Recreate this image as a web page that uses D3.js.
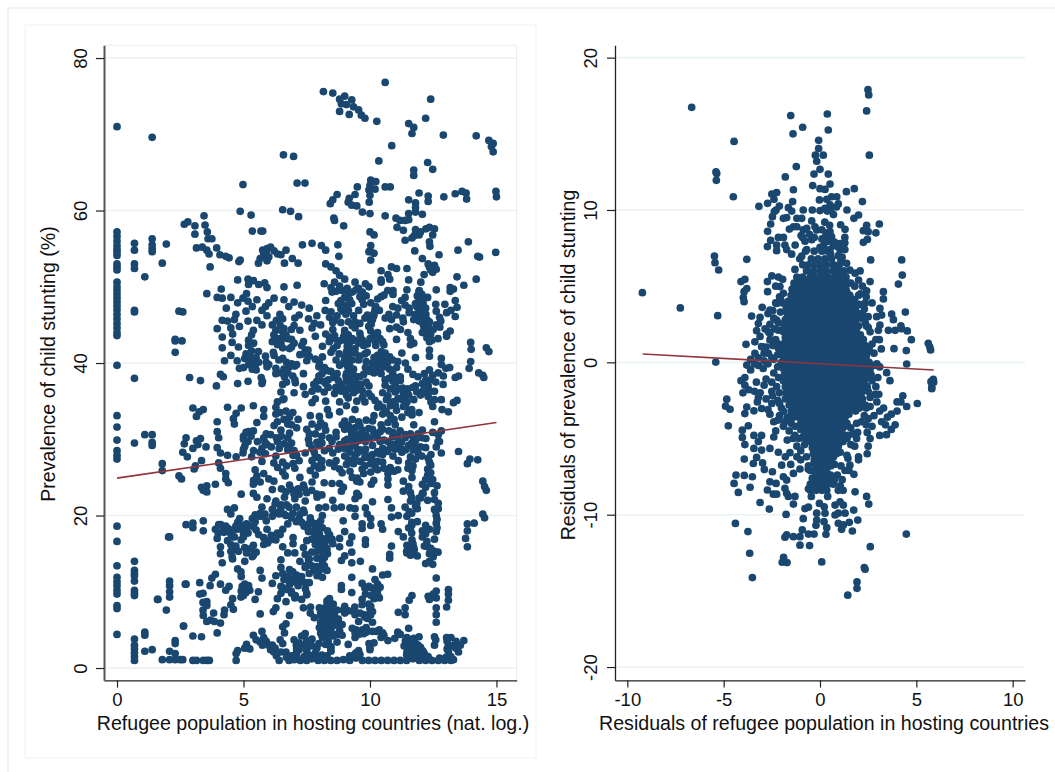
<!DOCTYPE html>
<html>
<head>
<meta charset="utf-8">
<script src="https://cdnjs.cloudflare.com/ajax/libs/d3/7.8.5/d3.min.js"></script>
<style>
body { margin: 0; background: #fff; }
text { font-family: "Liberation Sans", Arial, sans-serif; fill: #111; }
</style>
</head>
<body>
<svg id="chart" width="1055" height="772"></svg>
<script>
// left panel as [refugees (log), stunting %]
var leftColumns = [
[0,71],[0,57.2],[0,56.6],[0,56],[0,55.4],[0,54.9],[0,54.5],[0,54.1],[0,53],[0,52.6],[0,52.2],[0,50.6],[0,50],[0,49.5],[0,49],[0,48.5],[0,48],[0,47.5],[0,47],[0,46.4],[0,45.8],[0,45.2],[0,44.6],[0,44],[0,43.6],[0,39.7],
[0,33.1],[0,31.6],[0,29.9],[0,28.5],[0,27.9],[0,27.4],[0,18.6],[0,16.6],[0,13.4],[0,11.9],[0,11.3],[0,10.8],[0,10.2],[0,9.7],[0,8.2],[0,7.8],[0,4.4],
[.69,55.7],[.69,54.8],[.69,53],[.69,52.4],[.69,46.9],[.69,46.7],[.69,38],[.69,29.5],[.69,14],[.69,12.8],[.69,12.4],[.69,12.1],[.69,11.4],[.69,10.2],[.69,9.8],[.69,9.5],[.69,3.8],[.69,3],[.69,2.5],[.69,2],[.69,1.5],[.69,1],
[1.1,51.3],[1.1,30.6],[1.1,4.7],[1.1,4.3],[1.1,2.2],[1.39,69.6],[1.39,56.3],[1.39,55.5],[1.39,55],[1.39,54.6],[1.39,30.6],[1.39,29.6],[1.39,29.2],[1.39,2.4],
[1.79,53.1],[1.79,26.8],[1.79,25.9],[1.6,9],[1.79,1.1],[1.95,55.6],[1.95,7.6],[2.08,17.2],[2.08,11.4],[2.08,10.8],[2.08,10],[2.08,9.3],[2.08,2.2],[2.08,1.1],
[2.3,43.1],[2.3,42.9],[2.3,41.4],[2.3,3.6],[2.3,3.2],[2.3,1.9],[2.3,1.1],[2.45,46.8],[2.6,46.7],[2.57,42.9],[2.45,25.2],[2.55,24.8],[2.7,11],[2.63,5.5],[2.6,1.1],[2.87,38.1],[3.3,37.7],[3.93,37]
];
var leftTop = [
[8.16,75.6],[8.53,75.4],[9,75],[8.8,74.6],[9.28,74.5],[8.87,74],[9.07,73.9],[9.35,73.6],[9.55,73.2],[8.8,73],[9.18,72.6],[9.66,72.5],[9.8,72.1],[10.27,71.7],[10.6,76.8],[12.4,74.6],[12.2,72.1],[11.53,71.4],[11.73,70.9],[11.66,70.1],[12.9,69.9],[14.2,69.8],[14.7,69.2],[14.87,68.8],[14.8,68.4],[14.87,67.7],[10.86,68.5],[10.35,66.5],[6.58,67.3],[6.98,67.1],[4.98,63.4],[7.12,63.6],[7.43,63.6],[12.28,66.3],[12.48,65.4],[11.73,65.3],[11.73,64.6],
[10.03,64],[10.23,63.8],[10,63.3],[10.2,62.8],[9.96,62.7],[10.6,63.1],[10.8,63.1],[9.5,63.1],[9.41,62.1],[10,62],[9.97,61.1],[9.18,61.6],[9.14,61.1],[9.28,60.7],[9.48,60.6],[8.7,62.1],[8.53,61.4],[8.43,60.9],[11.94,62.3],[12.3,61.9],[12.3,61.2],[12.92,61.8],[13.37,62.2],[13.64,62.5],[13.8,62.3],[13.82,61.5],[14.98,62.5],[15,61.8],[11.53,61.4],[11.8,61],
[6.55,60.1],[6.86,59.9],[7.18,59.2],[4.87,59.9],[5.3,59.4],[3.44,59.3],[2.8,58.5],[2.66,58.2],[3.08,58],[3.48,58.1],[3.57,57.2],[3.08,56.9],[3.6,56.3],[3.75,56.3],[3.14,55.1],[3.37,55.2],[3.55,54.8],[3.64,54.3],[3.94,55.1],[4.07,54.2],[4.3,54],[4.43,53.8],[3.68,52.6],[4.87,53.5],[4.82,53.3],
[5.35,57.3],[5.69,57.3],[5.76,57.3],[5.76,54.8],[5.93,55],[6.07,55.2],[6.21,54.7],[5.8,54.2],[5.87,54],[5.66,53.7],[5.93,53.4],[5.59,53.1],[6.68,54.8],[6.48,54.2],[6.62,53.1],[6.93,53.7],[7.16,53.1],[7.33,55.5],[7.71,55.7],[8.08,55.4],[8.25,54.8],[8.73,55.5],[8.77,54],[5.9,54.6],[6,53.9],[6.35,54.3],
[10.6,59.3],[9.7,59.8],[10,59.6],[8.57,59],[8.6,58.7],[8.96,58],[10,57.2],[10.16,56.8],[11.03,59],[11.19,58.7],[11.39,58.7],[11.53,58.8],[11.53,59.6],[11.8,59.8],[12.07,59.5],[11.8,60.4],[11.07,57.8],[11.32,57.4],[11.39,56.1],[11.66,56.4],[11.8,57.5],[11.94,56.8],[12.21,57.6],[12.35,57.8],[12.55,57.6],[12.48,56.8],[12.35,55.9],[12.37,55.3],[13.89,55.9],[13.48,54.8],[14.26,54],[14.33,53.9],[14.97,54.5],[12.73,54.2],[11.77,54.7],[12.07,53.7],[10.03,55.4],[10.03,54.6],[10.16,54.4],[9.96,54.6],[10.03,53.5],
[10.44,52.1],[10.85,52.6],[11.05,52.4],[11.46,52.4],[12.35,52.6],[12.55,52.8],[12.48,51.9],[12.62,52.3],[12.14,51.6],[10.71,51.6],[13.44,51.3],[10.44,50.9],[10.78,51],[8.25,53],[8.46,52.6],[8.66,52.1],[8.8,51.5],[9,51],[13.17,49.9],[11.75,56.7],[12,57.2],[12.3,53],[12.4,52.2]
];
var leftUpper = [
[4.77,50.9],[5.18,51],[5.39,50.8],[5.2,50.3],[5.6,50.3],[5.84,50.5],[5.93,49.9],[6.6,50],[7.12,50.2],[8.19,50.4],[8.8,50.1],[9.41,50.6],[9.82,50.4],[10.44,50.6],[11.53,50.9],[12.01,50.6],[13.71,50.2],[14.2,51],
[4.12,49.7],[5.12,49.1],[8.46,49.9],[8.66,49.4],[9.55,49.8],[9.96,50],[10.91,49.5],[10.91,49],[11.46,49.6],[11.94,49.4],[12.62,49.6],[13.17,49.4],[13.3,49.7],[9.14,49],
[3.55,49.1],[3.96,48.6],[4.16,48.5],[4.5,48.6],[4.98,48.5],[5.53,48.3],[6.21,48.5],[9,48.6],[9.69,48.3],[10.3,48.4],[10.44,48.7],[11.39,48.6],[11.87,48.8],[12.28,48.6],[13.37,48.2],[8.25,48.2],[9.2,48.3],
[4.77,47.9],[5.18,48.1],[5.87,47.4],[6.79,47.4],[9.07,47.6],[9.28,47.8],[9.75,47.7],[10.03,47.9],[10.23,47.4],[11.39,47.6],[11.8,47.8],[12.07,47.5],[12.01,48.2],[13.44,47.3],[12.96,47.7],[11.94,47.2],
[5.73,46.9],[6.44,46.4],[8.23,46.9],[8.46,46.7],[8.94,46.8],[9.55,46.9],[10.16,46.5],[10.37,46.9],[11.05,46.3],[11.94,46.6],[12.21,46.4],[12.62,46.8],[13.03,46.6],[13.37,46.1],[13.2,46.9],[4.32,47.2],[5.93,46.2],[11.87,46],
[4.16,45.6],[4.37,45.5],[4.64,45.7],[5.18,45.5],[5.53,45.6],[6.55,45.8],[7.03,45.9],[7.57,45.8],[8.53,45.3],[9.41,45.4],[10.03,45.6],[10.85,45.7],[11.32,45.4],[11.94,45.5],[12.14,45.2],[12.62,45],[11.73,45.7],
[3.96,44.5],[4.5,44.6],[4.84,44.8],[5.39,44.3],[5.73,45],[6.14,45],[6.28,44.3],[6.55,44.1],[6.89,44.4],[7.23,44.3],[7.71,44.6],[8.05,45],[8.53,44.4],[9,44.3],[9.41,44.6],[10.03,44.2],[10.78,44.5],[11.05,44.7],[12.14,44.6],[12.41,44.3],[12.76,44.7],[13.17,44.2],[12.07,44],[7.8,45.2],[13.03,43.8],
[4.16,43.4],[4.57,43.8],[5.32,43.7],[6.34,43.2],[6.68,43.7],[7.84,43.5],[8.25,43.8],[8.59,43.2],[9.14,43.7],[9.62,43.4],[10.16,43.7],[11.05,43.1],[11.6,43.2],[12.28,43.6],[12.69,43.2],[13.03,43.5],[9.35,43],
[5.25,42.6],[6.14,42.8],[6.48,42.6],[7.37,42.8],[8.12,42.2],[8.39,42.8],[9.14,42.4],[9.55,42.6],[10.23,42.3],[11.6,42.4],[11.73,42.6],[12.35,42.8],[13.98,42.7],[9.07,42.9],[9.41,41.9],[6.9,42.1],
[4.16,42],[5.32,41.6],[5.59,41.5],[6.82,41.9],[7.44,41.7],[7.23,41.1],[8.46,41.4],[9.07,41.5],[9.41,41.3],[9.89,41.4],[11.26,41.3],[12.35,41.7],[14,41.8],[14.6,42],[14.7,41.5],[8.78,41.2],[9.05,41],[6.18,41.4],
[5.05,40.6],[5.32,40.5],[5.87,40.9],[6.21,41],[6.55,40.6],[7.5,40.3],[7.84,40.5],[8.12,40.8],[8.66,40.4],[9,40.5],[9.55,40.4],[10.16,40.7],[10.78,40.8],[11.8,40.7],[12.35,40.9],[12.82,40.6],[13.98,40.2],[10.3,41],[10.5,40.5],[9.1,39.7]
];
var leftMid3 = [
[4.84,39.3],[5.46,39.7],[5.93,39.5],[6.28,39.3],[6.82,39.5],[7.03,39.6],[7.98,39.5],[8.8,39.7],[9.14,39.3],[9.82,39.4],[10.3,39.6],[10.78,39.2],[11.05,39.4],[12.35,39.1],[12.82,39.8],[13.92,39.3],[10,39.2],[10.1,39.9],
[4.09,38.5],[4.2,38.2],[6.28,38.6],[6.62,38.2],[7.37,38.6],[7.98,38.3],[8.46,38.9],[9.07,38.6],[9.41,38.3],[10.16,38.7],[10.44,38.6],[12.48,38.4],[13.5,38.3],[14.46,38.4],[14.3,38.7],[14.5,38.1],[13.37,38.1],[5.7,38.1],[5.75,37.6],[7.9,37.6],[11.2,37.7],
[4.77,37.3],[5.18,37.6],[5.73,37.3],[6.55,37.2],[7.03,37.8],[7.37,36.9],[7.78,37.2],[8.25,37.3],[8.87,37.2],[9.07,37.8],[9.41,37.7],[9.55,36.9],[9.96,37],[10.6,37.1],[10.91,37.6],[11.8,37],[12.07,37.3],[12.3,37],[12.89,37.2],[11.7,36.8],[12.21,37.8],
[6.48,36.2],[7,36.1],[7.44,35.9],[7.71,36.3],[8.19,36.2],[8.87,36.3],[9.07,35.8],[9.35,36.1],[9.69,36.4],[10.5,36.1],[10.71,35.7],[11,36.2],[11.32,36],[11.53,35.8],[12.55,36.3],[6.55,35.2],[6.34,34.9],
[6.6,35.3],[7.71,34.8],[7.84,35.3],[8.25,35],[8.8,34.9],[9.14,35.4],[9.48,35],[9.8,34.9],[10.65,35.2],[10.91,34.9],[11.19,35.3],[11.46,34.9],[11.73,35.2],[12.41,34.9],[12.82,35.2],[13.44,35.1],[13.3,34.8],
[3,34.1],[3.41,33.9],[4.37,34.2],[4.91,34.1],[5.39,34.4],[5.8,33.9],[6.28,34.2],[6.68,33.7],[8.32,33.9],[8.8,33.6],[9.07,34.4],[9.41,33.9],[10.3,34.2],[11.05,33.8],[11.32,34.3],[12.48,34.3],[12.85,33.9],[13.1,33.6],[3.25,33.6],
[3.14,33],[4.71,33.4],[5.8,33],[6.28,33.3],[6.82,32.9],[7.16,32.6],[7.64,33.1],[8,33],[8.39,33.2],[10.16,33.1],[10.5,33.3],[11.26,32.9],[11.66,33.2],[11.94,33.5],[4.6,32.7],[6.95,33.5],
[3.96,32.3],[4.64,32],[5.53,32.2],[6.21,31.8],[6.34,32.3],[6.75,32],[7.71,32],[8.05,32.2],[9.14,31.8],[9.55,32.3],[10.1,32.4],[10.44,31.9],[10.71,32.2],[11.73,31.9],[12.55,32.3],
[3.96,31],[5.39,31.1],[6.07,30.6],[6.48,31.2],[6.82,30.8],[7.5,31.3],[7.84,30.7],[8.25,31.2],[8.66,30.9],[9,31.3],[9.28,30.7],[9.69,31.2],[10.16,30.8],[10.5,31.3],[10.91,30.9],[11.19,31.1],[11.6,30.7],[12.07,31.2],[12.48,30.9],[12.82,31.1],[5.1,30.9],[9.4,31.5],[9.95,31.4]
];
var leftMid2 = [
[2.73,30.2],[3.14,29.8],[4.02,30.2],[5.18,29.7],[5.8,30.2],[6.34,29.7],[6.75,30.2],[7.57,30],[8.05,29.7],[8.66,30.3],[9,29.8],[9.35,30.2],[9.82,29.7],[10.3,30.2],[10.71,29.7],[11.39,30.2],[11.8,29.8],[12.21,30.1],[12.69,29.7],[3.3,30.1],[5.3,30.4],
[2.66,29.4],[3,28.8],[3.2,29.3],[3.52,29],[3.96,28.9],[5.05,29.1],[5.73,28.8],[5.93,29.3],[6.41,28.8],[6.82,29.2],[7.71,28.8],[7.98,29.2],[8.39,28.8],[9.41,29.1],[9.82,28.7],[10.1,29.2],[10.5,28.8],[11.53,29.2],[11.8,28.9],[12.62,29],[9.6,28.6],[10.3,28.4],
[2.6,28.3],[2.78,27.7],[4.09,28.2],[4.37,27.9],[4.71,27.7],[4.98,28.2],[5.32,27.7],[5.87,28.1],[6.28,27.8],[6.96,27.9],[7.44,28.2],[7.84,27.7],[8.53,28.2],[9,27.8],[9.48,28.2],[9.89,27.7],[10.37,28.1],[10.91,27.8],[11.26,28.3],[11.6,27.7],[12.41,28],[12.82,28.2],[13.5,28.4],[9.2,28.3],[10.6,28.5],
[3.34,27.2],[4.02,26.9],[5.73,27.1],[6.55,27],[6.96,26.8],[7.71,27.2],[8.05,26.7],[8.66,27.2],[9.07,26.7],[9.62,27.1],[10.03,26.8],[10.5,27],[11.12,27.2],[11.53,26.9],[12.35,27],[13.85,26.8],[14.26,27.3],[13.95,27.4],[3.1,26.5],
[3.05,26.1],[4.09,26.2],[5.46,26],[6.55,25.7],[7.03,26.2],[7.64,25.9],[7.98,26.2],[8.8,26.1],[9.21,25.8],[9.69,26.1],[10.03,25.7],[10.3,26],[10.71,25.5],[11.66,25.9],[12.28,26.1],[6.65,25.2],
[4.3,25.5],[4.3,24.8],[5.53,25.2],[5.8,25.5],[7.23,25],[7.84,25.3],[10.71,24.8],[11.66,25],[12.28,25.3],[12.48,24.7],[4.4,24.3],[5.4,24.6],[10.15,24.6],[10.05,24.1],
[3.34,23.7],[3.55,23.9],[3.89,24.1],[5.39,24.1],[5.66,24.4],[6.82,24],[7.37,24],[7.71,24.4],[8.19,24.3],[8.8,24.2],[8.5,24.2],[9.48,24.5],[9.6,24.4],[10.71,24],[11.32,24.5],[11.53,23.8],[12.07,24.1],[12.41,24.2],[14.46,24.5],[14.53,23.8],[12.65,23.9],
[3.41,23.3],[3.55,23.1],[4.91,22.8],[5.39,22.9],[6.14,23.4],[6.68,23.1],[7.16,23.5],[7.5,23],[8.87,23.2],[8.95,23.7],[9.48,22.9],[11.32,23.2],[11.6,23],[12.07,22.9],[12.55,23],[14.6,23.3],[11.65,22.4],
[5.53,22.4],[5.93,22.2],[6.28,21.9],[6.62,22.4],[7.03,22.2],[7.44,21.9],[7.91,22.4],[8.53,22],[9.41,22.2],[9.55,22.6],[10.1,21.8],[10.71,22.1],[11.6,21.9],[11.94,22.3],[12.28,22],[12.55,22.1],[12.7,21.6],
[4.37,20.8],[4.64,21],[5.73,21.1],[6.14,20.8],[6.48,21],[7.09,21.1],[7.37,20.7],[7.98,21],[8.25,21.1],[8.59,21],[8.87,21.1],[9.21,21],[9.41,20.9],[9.82,21],[10.85,21],[11.39,21.1],[11.87,20.9],[12.55,20.8],[12.7,20.9],[6.25,21.5],[11.55,20.5],[6.3,20.4]
];
var leftMid1 = [
[4.5,20.2],[5.46,20.1],[5.66,20.3],[6.14,19.9],[6.41,20.2],[6.68,20],[7.23,20.2],[7.64,19.7],[8.12,20],[9.41,19.9],[9.89,20.2],[10.85,19.8],[11.12,20],[11.46,19.9],[12.62,20],[14.46,20.2],[14.53,19.7],[7.4,20.4],[10.03,19.6],[8.05,19.3],
[2.73,18.8],[3,19],[3.41,19.3],[4.02,18.8],[4.77,19.1],[5.12,18.9],[5.46,19.2],[6.75,18.9],[7.09,19.2],[7.57,18.9],[7.98,19],[8.12,18.4],[8.94,19.3],[9.69,18.9],[10.03,18.7],[10.44,18.9],[11.66,18.8],[11.87,19.2],[12.62,19],[13.85,18.9],[14.12,19],[4.3,18.6],[4.98,18.4],
[3,18.4],[3.41,18],[3.89,18.2],[4.23,17.8],[4.77,18.2],[5.18,17.7],[5.93,18.2],[6.34,17.7],[6.55,18.2],[7.57,17.9],[7.84,18.3],[8.32,18],[9,17.9],[9.69,18.3],[10.5,18.2],[11.12,17.9],[11.53,18.4],[12.07,18],[12.35,18.2],[12.62,17.9],[13.85,18],[4,17.7],[5,17.6],
[2.04,17.2],[3.96,17],[4.37,16.7],[4.64,17.2],[4.91,16.8],[5.8,17.1],[6.28,16.8],[6.96,17.1],[7.5,16.7],[7.91,17.2],[8.25,16.7],[8.8,17],[9.28,17.2],[9.82,16.8],[11.32,17.2],[11.66,16.8],[12.07,17.2],[12.55,16.9],[13.78,17],[8.05,16.4],[8,17.6],[8.35,17.2],
[4.09,15.9],[4.5,16.2],[5.05,15.8],[5.39,16.1],[5.8,16.2],[6.55,15.9],[6.96,16.3],[7.37,15.8],[7.84,16.2],[8.25,15.8],[8.53,16.3],[8.8,15.9],[9.82,16.2],[10.85,16],[11.46,16.1],[11.73,15.8],[12.28,15.9],[13.85,15.9],[9.2,16.4],[8.05,15.6],
[4.09,15],[4.5,15.3],[5.12,15.1],[5.39,14.8],[7.03,15.1],[7.44,14.9],[7.91,15.3],[8.32,15],[9,14.7],[9.28,15.2],[10.78,14.9],[11.46,15.1],[11.87,14.7],[12.35,15],[12.69,15.2],[6.75,15.1],[11.55,15.5],
[4.16,13.8],[4.57,14.3],[5.05,14],[6.48,14.2],[7.23,14],[7.57,14.2],[8.12,13.8],[8.87,14.1],[9.28,13.8],[9.62,14],[10.78,14.4],[12.35,14],[12.48,13.6],[7.9,13.3],[12.2,13.7],
[4.77,13],[5.66,12.8],[6.48,13.2],[6.82,12.9],[7.44,13.2],[7.78,12.8],[8.12,13],[10.1,13],[4.9,12.6],[6.95,12.6],[8.3,12.8],[7.6,12.4],
[3.89,12.3],[4.91,12],[5.73,11.8],[6.28,12.1],[7.03,11.8],[7.91,12.1],[8.12,11.9],[9.28,11.9],[10.5,12.2],[10.2,11.6],[10.7,12.3],[12.62,11.8],[3.75,11.8],
[2.73,11],[3.27,11.2],[3.68,10.8],[4.09,11],[4.43,10.7],[5.05,11],[6.14,11.1],[6.48,10.7],[6.82,11],[7.16,10.8],[7.44,11.2],[8.87,10.8],[9.69,11.1],[9.96,10.7],[10.3,11],[7.6,11.2],[10.4,10.6],[9.8,10.5],[8.87,10.3]
];
var leftLow = [
[3.27,9.7],[3.4,9.8],[4.3,10.2],[4.91,10.1],[5.25,10.2],[5.59,10],[5.0,9.5],[6.48,9.8],[6.89,10.1],[7.5,9.8],[9.28,9.9],[9.82,9.7],[10.3,9.6],[10.3,10.2],[12.62,10.1],[13.1,10.3],[13.1,9.7],[12.3,9.4],[12.5,9.7],
[1.62,9],[3.55,8.7],[4.57,9.1],[4.9,9.3],[5.46,9],[6.34,9.1],[6.68,8.7],[7.03,9.2],[7.3,9],[9.69,9],[10.16,9.1],[10.37,9.2],[11.66,9.5],[11.55,8.9],[12.35,9],[12.62,9.2],[13.1,8.9],[3.4,8.6],
[3.55,8.2],[4.5,8.3],[4.6,7.7],[6.28,7.9],[7.37,7.9],[9.69,8.3],[10.03,8.1],[11.39,7.9],[12.62,7.9],[13.03,8],[6.18,7.4],[8.3,8.8],[8.15,7.8],[7.65,8],[8,7.9],[8.4,8.2],[9,8.1],[9.4,8],[10.1,7.4],[12.62,7],[3.4,7.6],[4.25,7.6],
[3.41,6.9],[3.82,7.2],[4.23,7],[5.66,7.1],[6.82,6.9],[7.64,7.2],[8.05,6.9],[8.46,7.2],[9,7.2],[9.41,7],[9.8,6.7],[10.03,7],[11.12,7.3],[11.39,7],[8.3,6.6],[8.6,6.8],[7.8,6.6],[3.7,6.3],
[3.55,6.1],[4.09,5.9],[3.85,6.1],[6.68,5.8],[8.05,6],[8.39,6.2],[8.66,5.8],[9.55,6.1],[10.1,6],[12.62,6],[6.55,5.4],[8,5.3],[8.45,5.2],
[2.63,5.5],[5.73,4.8],[6.62,4.6],[8.05,4.6],[8.46,4.8],[8.8,4.9],[9.41,4.6],[9.7,5],[9.85,4.7],[10.37,5],[10.5,4.6],[11.53,5.2],[8.2,5.1],[9.3,5.2],[10.25,4.8],[10.55,4.3],[11.1,4.7],
[3,4.2],[3.34,4.1],[3.96,4.6],[5.39,4.3],[5.8,4],[7.3,4.2],[7.44,4.5],[7.71,3.8],[8.12,4],[8.53,4.2],[9.41,4],[10.44,4],[10.71,3.6],[10.98,3.9],[11.2,4.4],[11.46,4],[11.73,3.9],[11.94,4.1],[12.55,4.1],[13.03,4],[13.71,3.6],[12.6,3.7],[13.2,4],[13.4,3.5],
[5.12,3.1],[5.66,3.4],[6.14,3],[6.55,3.2],[7.09,3],[7.64,3.4],[7.98,3.2],[8.46,2.8],[9.14,3.1],[9.96,3.2],[10.16,3.3],[11.53,3],[11.8,3.2],[12.55,3],[13.1,2.9],[13.57,3],[11.45,3.3],[5.9,3.5],[6.45,3.7],[7.4,3],
[4.77,2.3],[5.25,2.5],[5.05,2.6],[6.07,2.4],[6.48,2.1],[7.09,2],[7.5,2.3],[7.84,2],[8.46,2.2],[9.55,2.3],[10,2.4],[11.46,2.1],[11.8,2],[12.07,2.3],[13.1,2.2],[13.5,2.1],[12.15,1.9],[11.6,2.6],[6.68,2.1],[7.2,2.4],
[2.5,1.1],[3,1],[3.14,1],[3.41,1],[3.55,1],[3.65,1],[4.71,1],[4.71,1.9],[6.41,1],[6.8,1],[7,1.1],[7.25,1],[7.5,1],[7.7,1.2],[7.95,1],[8.2,1],[8.45,1],[8.7,1],[8.95,1.1],[9.2,1],[9.45,1.3],[9.7,1],[9.95,1],[10.2,1],[10.45,1],[10.7,1],[10.95,1],[11.2,1],[11.45,1],[11.7,1.2],[11.95,1],[12.2,1],[12.45,1],[12.7,1],[12.95,1],[13.2,1],[13.3,1.1],[11.6,1.6],[12.1,1.5],[13,1.4],[13.2,1.5],[9.4,1.8]
];
// the thick clusters of the left panel
var leftDenseHigh = [
[11.95,49.5],[12.05,49],[12.15,48.5],[11.95,48.3],[12.1,47.8],[12.2,47.2],[11.85,47.4],[12,46.8],[12.15,46.2],[12,45.9],[12.25,45.7],[12.1,45.1],[12.3,44.8],[12.2,44.1],[12.4,43.8],[12.25,43.3],[12.45,43],[12.5,44.4],[12.35,45.4],[11.8,46.4],
[9,44],[9.1,43.3],[9.3,43.2],[9.2,42.7],[9.1,42.2],[9.25,41.8],[9.35,41.4],[9.15,40.9],[9.3,40.4],[9.1,40.2],[8.95,40],[9.2,39.6],[9.35,39.2],[9.25,38.8],[9.05,38.3],[9.3,37.9],[9.15,37.5],[9.45,37.4],[9.3,36.8],[9.1,36.6],[8.9,36.8],[9.45,36.4],[8.8,42.9],[8.6,43.6],[9.5,42.9],[9.6,43.9],[9.7,43],
[10.1,40],[10.3,40.2],[10.5,39.9],[10.7,40.1],[10.2,39.4],[10.4,39.2],[10.6,39.5],[9.85,40.2],[10,38.9],[10.25,38.9],[10.2,47.1],[10.15,46.2],[10.1,45.7],[10.05,45.1],[9.95,44.8],[10.3,44],[10.4,43.2],[10.5,42.8],[10.55,42.4],[10.2,42.9],
[8.6,50.6],[8.5,49.3],[8.9,49.5],[9.1,49.8],[9.3,49.3],[9.45,49.6],[9.7,49.3],[9.85,48.8],[9.6,48.7],[8.85,48.2],[9,47.5],[8.85,47.1],[9.15,46.9],[9.05,46.4],[8.75,47.8],
[6.3,45.6],[6.45,44.9],[6.6,44.5],[6.2,43.7],[6.5,43.2],[6.75,43.2],[6.9,43.1],[7,42.6],[6.35,42.4],[6.55,42],[7.3,42.3],[7.4,41.2],[7.55,41.7],[7.6,40.9],[6.4,40.4],[6.7,40.1],[6.9,39.9],[7.1,39.8],[6.6,39.2],[6.5,38.7],[6.75,38.7],[6.95,38.3],[7.05,37.4],[6.7,37.5],
[5.2,43],[5.2,42.3],[5.4,42.6],[5.1,41.2],[5.25,41],[5.5,40.7],[5.6,40.1],[5.2,39.8],[5,39.4],[5.35,39.2],[5.5,39.1],[5.9,40.1],[6,39.8],
[8,40],[8.2,39.4],[8.3,39],[8.1,38.6],[8.35,37.8],[8.15,37.6],[8.35,36.8],[7.95,36.6],[8.55,38.1],[8.7,38.6],[8.75,37.7],[8.65,36.8],[8.6,36],
[12.1,36.4],[12.2,36.1],[12.4,36.3],[12,35.8],[12.3,35.6],[12.55,35.2],[11.85,36.2],[10.8,36.6],[11,37],[11.15,36.6],[11.3,36.7],[10.75,38],[10.6,37.8],[10.9,38.6],[11,38.1],[11.2,38.2],[11.5,36.6],
[9.7,35.5],[9.95,36],[10.05,35.6],[10.2,35.1],[10.35,34.6],[10.5,34.2],[10.65,33.6],[10.8,33.1],[10.95,32.6],[11,31.9],[10.8,34.4],[11,34.5],[11.1,35.3],[11.3,35.2],[11.5,33.5],[11.4,34.4],[11.65,33.9],[9.65,37.2],[9.85,37.5],[9.75,38.5],[9.6,38.2],
[8.4,46],[8.6,45.6],[8.85,45.3],[9.15,45.4],[9.3,44.9],[9.6,45.2],[9.8,45.9],[9.9,46.3],[9.35,46.2],[8.7,46.2],[8.95,43.4],[8.4,43.4],[8.7,42.3],[8.55,41.9],[9.75,42.3],[9.9,42.5],[10,43.2],[9.8,41.2],[9.6,40.9],[10.45,41.5],[10.6,41.3],[10.9,40.4],[11.1,40.2],[11.4,40],[11.5,39.2],[11.7,38.5],[11.9,38.2],[12.15,38.6],[12.4,37.8],[12.6,37.5],[12.7,38.7],[12.9,38.3],[13,39.3],[13.15,39.4],[11.5,44],[11.2,44.4],[11.3,45.9],[11.55,46.6],[11.1,47.2],[11.25,48.2],[11.55,47.2],[12.6,47.7],[12.75,46],[12.8,45.5],[10.6,45.9],[10.75,46.4],[10.9,47.4],[10.55,48.9],[10.7,49.5],[6,47.9],[6.6,48.3],[7,48],[7.3,47.6],[7.6,47.2],[7.2,46.3],[7,44.9],[7.9,46.2],[5.1,46.8],[4.7,46.4],[5.35,47.4],[4.55,42.7],[4.8,42.1],[4.5,41],[4.25,40.3],[4.75,40.3]
];
var leftDenseLow = [
[9.1,30],[9.3,29.5],[9.55,29.8],[9.7,30.3],[10,30.1],[10.4,29.7],[10.55,29.9],[9.2,29],[9.5,28.2],[9.8,28.2],[10.1,28],[10.5,28],[10.7,28.4],[9.15,27.3],[9.35,26.8],[9.8,26.5],[10.2,26.5],[10.3,27.1],[10.05,27.4],[9.4,27.6],[9.8,27.6],[9.3,32.6],[9.6,31.8],[9.85,32.5],[10.1,31.3],[9,32.4],[8.9,31.9],[9.2,31.3],[9.5,30.6],[9.85,30.5],[10.25,30.4],[10.4,31],[10.75,31.1],[10.9,30.3],[11.1,30.4],[11.4,30.6],[11.7,30.3],[11.9,30.7],[12.05,30.2],[11.65,29.5],[11.4,28.6],[11.2,28.8],[11,28.7],[10.8,28.9],[11.7,28.6],[11.9,28.2],[11.8,27.4],[11.5,26.2],[11.7,26.5],[12.3,27.5],[12.4,26.6],[12.4,25.6],[12.2,24.7],[12.75,29.7],[12.7,30.6],
[10.55,26.2],[10.8,26.3],[10.95,25.8],[11.1,26],[10.9,29.3],[11.1,29.5],[11.25,29.6],[12,29],[12.2,28.9],[12.05,27.8],[8.5,29.7],[8.8,29.3],[8.75,28.7],[9,28.8],[8.6,26.4],[8.4,26.9],[8.9,25.6],[9.3,25],[9.5,24.9],[9.75,25.5],[6.2,26.9],[6.35,26.3],[6.7,26.5],[6.2,24.5],[6,24.8],[6.5,23.5],
[5,30.4],[5.2,31],[5.1,29.6],[5,28.7],[5.4,28.5],[5.9,30.7],[5.85,29.6],[6.1,29],[6.3,30.2],[6.5,30.4],[6.6,29.4],[6.9,29.5],[6.75,28.6],[7,28.5],[7.1,27.9],[7.2,27.2],[7.6,29.4],[7.9,29.6],[8.1,29.5],[8.2,28.5],[7.8,28.3],[7.95,27.6],[8.1,27.2],[8.1,26.3],[7.8,26.5],[6.45,33.5],[6.6,32.6],[6.9,31.9],[7.1,31.5],[7.95,31.6],[8.2,31.8],[8.4,30.2],[8.1,30.4],[7.6,30.7],[5.55,29.7],[5.65,28.3],[5,30],
[6.9,23.4],[7,22.8],[7.2,22.8],[7.4,23.6],[7.7,23.3],[7.9,22.8],[8.1,22.7],[6.5,21.4],[6.7,21.4],[6.8,21.1],[6.95,20.3],[6.6,20.2],[6.9,19.7],[7.2,19.6],[7.3,19.1],[7.4,18.6],[7.55,18.3],[7.65,19.4],[7.75,19],[7.8,17.7],[7.95,17.2],[7.7,16.9],[7.95,16.5],[8.1,17],[8.2,16.3],[8.3,15.6],[8.4,17.5],[8.5,16.9],[8.15,15],[8.2,14.5],[7.7,15.2],[7.6,14.3],[7.45,13.4],[8.05,14.4],[7.9,14.4],[7.7,13.4],[8.2,13.4],[7.95,12.5],
[4.1,18.8],[4.2,18.2],[4.4,18.3],[4.5,17.6],[4.6,18.1],[4.7,18.6],[4.55,17.2],[4.85,19.6],[4.95,18.7],[5.1,18.2],[5,17.2],[5.2,18.7],[5.35,19.6],[5.4,18.5],[5.5,18.1],[5.55,19.9],[5.7,19.9],[5.85,20.2],[5.9,19.3],[5.6,17.5],[5.95,16.4],[6.1,17.4],[6.05,16.8],[6.45,17.5],[4.6,15.5],[4.7,16],[4.8,15.3],[4.55,14.6],[5.3,15.7],[5.5,15.2],[5.35,14.6],
[11.55,15.7],[11.65,15.2],[11.75,15.5],[11.45,15.3],[11.6,14.8],[11.7,16.3],[11.65,17.7],[11.6,18.3],[11.65,19.1],[11.65,20.3],[12.2,18.7],[12.2,17.6],[12.25,16.6],[12.15,16],[12.4,15.7],[12.55,15.3],[12.5,14.6],[12.6,20.6],[12.65,19.5],[12.65,18.4],[12.1,22.9],[12.2,23.7],[12,22.3],[11.85,21.6],[11.8,21.2],
[6.55,12.4],[6.6,11.6],[6.75,12],[6.85,11.5],[7,11.3],[7.1,12.2],[7.25,11.4],[7.3,12],[6.55,10.5],[6.7,10.3],[6.9,9.8],[7.05,9.5],[7.45,10.4],[7.5,9.6],[5.1,10.4],[5.2,10.8],[4.95,10.7],[5.1,9.9],
[8.4,9.1],[8.3,8.3],[8.55,8.4],[8.2,7.4],[8.45,7.6],[8.7,7.6],[8.05,7.3],[8.25,6.2],[8.5,6.4],[8.75,6.4],[8.9,5.7],[8.15,5.7],[8.35,5.7],[8.6,5.6],[8.1,4.3],[8.3,4.4],[8.7,4.4],[8.9,4.3],[8.95,7.6],[9.15,7.5],[9.35,7.4],[9.6,7.2],[9.75,7],[9.9,6.5],[9.45,5],[9.55,4.4],[9.75,4.5],[9.85,5.3],[10.1,4.8],[8.35,3.5],[8.25,3.1],[8.7,3.4],[8.45,2.5],[7.9,2.6],[7.7,2.9],[7.5,3.6],[7.2,3.3],[7,3.7],[7.1,2.5],
[9.45,2],[9.6,1.8],[9.2,1.6],[10,2.7],[11.4,3.6],[11.6,3.7],[11.75,3.3],[11.9,3],[11.5,2.5],[11.7,2.5],[11.85,2.5],[12,2.7],[11.45,1.7],[11.85,1.7],[11.35,2.9],[12.1,2.2],[12.3,1.5],[13.05,2.5],[13.25,2.9],[13.05,3.5],[13.4,2.6],[12.75,1.3],[6.7,1.4],[6.9,1.6],[7.1,1.7],[7.4,1.5],[7.6,1.7],[7.9,1.5],[8.1,1.7],[8.3,1.6],[6,3],[6.25,2.6],[5.5,3.7],[5.75,3],[6.2,2.1],[6.3,1.6],[10.05,10.5],[10.2,9.9],[10.05,9.5],[9.95,8.4],[10,7.8],[10,7.2]
];

// right panel as [residual x, residual y]
var rightTop = [
[-6.66,16.74],[2.49,17.9],[2.53,17.55],[2.42,16.5],[-1.52,16.2],[.38,16.3],[-.9,15.43],[-1.4,15],[.43,15.25],[-4.46,14.5],[-.07,14.57],[-.07,14.03],[-.24,13.6],[.17,13.6],[2.56,13.6],[-.17,13.2],[-1.23,12.85],[0,12.67],[-5.4,12.5],[-5.36,12.4],[-5.38,11.95],[-.31,12.36],[.43,12.36],[-1.8,12.17],[-.38,11.6],[0,11.4],[.26,11.35],[.52,11.7],[1.78,11.4],[1.37,11.2],[-1.38,11.33],[-2.25,11.14],[-2.5,11.05],[-4.5,10.87],[-2.39,10.7],[-1.42,10.55],[-2.72,10.44],[-3.17,10.24],[-2.11,10.26],[-1.64,10.15],[-2.28,10],[-1.47,9.93],[-.87,10],[-.4,10],[-.03,10.66],[.35,10.7],[.6,10.87],[.87,10.87],[.95,10.4],[.52,10.33],[.26,10.1],[0,9.96],[.38,9.93],[1.4,10],[2.2,10.55],[2,9.67],[1.76,9.45],[2.42,9],[3.08,9.08],[2.9,8.5],[2.25,8.64],[2.5,8.58],[1.07,9.03],[1.3,8.73],[-.43,9.28],[-.17,8.69],[-.26,8.9],[-2.47,9.56],[-2.56,9.08],[-2.37,9.9],[-1.9,9.45],[-1.73,9.5],[-1.2,9.45],[-.95,9.45],
[-1.38,8.9],[-1.59,8.75],[-1.2,8.9],[-.87,8.7],[-.69,8.8],[-.98,8.32],[-2.72,8.6],[-2.56,8],[-2.16,8.2],[-1.9,8.2],[-2.73,7.6],[-2.25,7.7],[-2.25,7.33],[-1.82,7.7],[-1.73,7.4],[-1.47,7.1],[-1.29,7.7],[-.78,7.95],[-.43,8.05],[-.69,7.4],[-.95,6.97],[0,7.55],[.52,8.58],[.6,8.25],[.43,7.95],[.69,7.7],[.52,7.4],[1.29,8.2],[1.29,7.85],[1.29,7.4],[1.04,7.4],[2.25,7.88],[2.46,8.07],[-3.8,6.76],[-5.48,6.98],[-5.45,6.54],[-5.26,6.06],[4.24,6.72],[2.63,6.72],[4.27,5.73],[4.07,5.14],[3.29,4.64],[3.29,4.16],[2.6,5.3],[2.42,4.7],[2.08,6],[1.09,6.7],[1.38,6.5],[1.55,6.05],[1.82,5.85],[-1.3,6.1],[-2.5,5.67],[-2.16,5.6],[-1.94,5.45],[-2.73,5.3],[-4.1,5.3],[-3.9,5.45],[-3.8,4.84],[-3.94,4.64],[-2.72,4.64],[-2.08,4.97],[-1.9,4.53],[-3.98,4.25],[-3.94,3.98],[-9.22,4.57],[-7.25,3.57],[-5.31,3.06],[-3,3.61],[-2.25,3.87],[-2.6,3.43],[-3.55,3.04],[-3.11,2.95],[-3.2,2.55],[-2.85,2.2],[-3.29,2.08],[-2.68,2],[-3.11,1.7],[-2.25,2.77],[-2.16,2.11],[-3.84,1.18],[-3.38,1.35],[-3.03,1.03],[-2.6,1.47],[-2.16,.92],[-3.38,.59],[-2.68,.59],[-3.8,-.18],[-5.41,.02],[-3.2,.3],[-2.9,.1],[-2.5,.3],[-3.6,.2],
[2.4,4.3],[2.1,4.5],[2.2,5],[2.7,3.9],[2.3,3.5],[2.5,3],[2.2,3.2],[2.4,2.4],[2.6,2],[2.1,1.8],[2.7,1.2],[2.5,.7],[2.8,.6],
[3.11,3.54],[3.2,3.1],[2.94,3],[3.72,3.17],[3.81,2.8],[3.11,2.45],[3.03,2.1],[3.55,2.1],[3.9,2.1],[4.24,2.2],[4.2,2.4],[4.53,2.06],[4.74,1.49],[3.08,1.49],[3.18,.88],[3.84,.9],[4.48,.77],[4.5,-.11],[4.43,3.3],[5.62,1.25],[5.7,1],[5.74,.81],[3.46,-.68],[3.63,-1.2],[5.88,-1.12],[5.76,-1.27],[5.8,-1.64],[3,-1],[2.9,-1.6]
];
var rightLow = [
[5.8,-1.73],[5.9,-1.3],[-4.84,-2.42],[-4.9,-2.88],[-4.67,-3.08],[-4.76,-4.17],[-3.8,-2.93],[-3.9,-3.36],[-3.25,-2.6],[-3.03,-3.03],[-3.43,-3.18],[-2.47,-2.2],[-3.72,-4.17],[-4.03,-4.45],[-4.03,-4.93],[-3.9,-5.4],[-3.43,-4.8],[-3.03,-4.8],[-3.2,-5.2],[-3.43,-5.65],[-3.03,-5.76],[-2.6,-5.65],[-2.16,-5.9],[-3.93,-6.35],[-3.29,-6.24],[-3.46,-6.64],[-2.98,-6.6],[-2.89,-7.03],[-2.47,-7.18],[-4.36,-7.4],[-3.93,-7.42],[-3.51,-7.51],[-4.46,-7.95],[-3.63,-8.2],[-4.24,-8.54],[-2.6,-7.84],[-2.28,-7.95],[-2.73,-8.38],[-2.42,-8.65],[-2.25,-8.65],[-3.11,-9.2],[-2.63,-9.63],[-1.76,-9.98],[-4.39,-10.57],[-3.74,-11.11],[-3.65,-12.53],[-3.51,-14.13],[-1.89,-12.8],[-1.96,-13.12],[-1.71,-13.14],[-1.82,-11.48],[-1.73,-11.33],[-1.38,-11.44],[-1.04,-11.44],[-.92,-11],[-.6,-11.27],[-.31,-11.27],[-1.04,-12],[-.54,-12.03],[.31,-11.29],[.09,-13.1],[4.48,-11.27],[2.61,-12.1],[2.3,-13.47],[2.34,-13.58],[1.92,-14.41],[1.92,-14.83],[1.44,-15.28],[1.68,-11.07],[1.12,-10.96],[1.21,-10.67],[.95,-10.56],[1.52,-10.5],[1.96,-10.35],[1.75,-9.7],[2.53,-9.3],[2.42,-8.8],[1.82,-8.5],[1.04,-9.15],[1.21,-9.37],[.78,-9.37],[1.3,-9.9],[.95,-9.9],[.78,-10.02],[.22,-9.48],[.26,-9.9],[-.03,-9.26],[-.17,-9.9],[-.17,-10.35],[-.21,-10.7],[.21,-10.46],[.35,-10.85],[-.78,-9.6],[-.87,-10.26],[-.6,-9.5],[-1.3,-8.8],[-1.73,-8.6],[-1.64,-8.8],[-1.38,-9.3],[-1.82,-8.27],[-1.9,-7.51],[-1.73,-7.73],[-1.38,-7.29],[-1.99,-6.75],[-1.52,-6.7],[-1.8,-6.2],[-1.56,-5.93],[-1.04,-7],[-.61,-7],
[1.09,-6.8],[1.3,-7.1],[1.5,-7.1],[.9,-7.4],[1.15,-7.7],[.75,-7.7],[1.05,-8.1],[1.2,-8.4],[.95,-8.4],[.7,-8],[1.55,-6.75],[1.76,-7.35],[2.45,-6],[2.5,-5.5],[2.6,-5],[2.45,-4.6],[2.7,-4.2],[2.8,-3.5],[3.2,-3.9],[3.4,-4.1],[3.1,-4.8],[3.45,-4.75],[3.7,-4.4],[3.9,-4.1],[3.5,-3.6],[3.7,-3.4],[4,-3.2],[3.3,-3],[3.1,-3.2],[4,-2.6],[4.3,-2.2],[4.2,-2.6],[4.5,-2.9],[5.05,-2.7],[2.95,-2.6],[2.6,-2.9],[1.6,-5.4],[1.9,-5],[1.8,-5.5],[2,-6.2],[2,-6.4],[1.45,-6.3],[1.4,-6.1],
[-1.7,-5.1],[-1.4,-5],[-2.3,-4.5],[-2.4,-3.9],[-2.6,-3.4],[-2.1,-3.5],[-2.4,-4.9],[-1.9,-3.2],[-2.2,-3.8],[-2.7,-3.1],[-1.9,-4.2],[-1.2,-5.5],[-1,-5.8],[-.8,-5.4],[-.7,-6.2],[-1,-6.4],[-.6,-6.8],[-1.2,-6.2]
];
var rightEdge = [
[-2.1,4.3],[-2.3,3.9],[-2.45,3.4],[-2.05,3.3],[-1.95,3.9],[-2.7,3.2],[-2.4,2.9],[-2.15,2.6],[-2.6,2.5],[-2.35,2.2],[-2.6,1.9],[-2.3,1.5],[-2.45,1.1],[-2.15,1.2],[-2.8,1],[-2.9,.6],[-2.2,.5],[-2.4,.2],[-2.7,-.1],[-2.2,-.3],[-2.95,-.4],[-3.2,-.2],[-3.4,-.1],[-3.6,-.5],[-2.4,-.7],[-2.15,-1],[-2.5,-1.3],[-2.8,-1.1],[-2.25,-1.6],[-2.5,-1.9],[-2.1,-2],[-2.9,-1.5],[-3.3,-1.3],[-3.9,-1],[-4.1,-1.2],[-3.9,-1.5],[-3.7,-1.8],[-3.4,-1.9],[-4,-2],[-3.2,-2.3],[-2.8,-2.4],[-3.1,-2],[-2.5,-2.7],[-2.2,-2.5],[-2,-3],[-2.1,-2.7],[-1.7,-3.6],[-1.85,-3.9],[-1.5,-4],[-1.3,-4.2],[-1.6,-4.5],[-1.3,-4.8],[-1.1,-5],[-.9,-4.9],[-.75,-5],[-1.4,-3.6],[-.85,-3.9],[-2.3,5],[-2.05,4.2],
[2,4.4],[1.8,4.1],[2.05,3.8],[1.6,5.2],[1.8,5],[2,5.4],[2.35,3.9],[2.15,2.9],[2.35,2.6],[2.5,2.3],[2.25,1.5],[2.35,1.1],[2.55,.9],[2.9,1.5],[2.6,-.7],[2.8,-.2],[2.95,-.1],[2.7,-1.2],[3.1,-.3],[2.5,-1.9],[2.6,-2.3],[2.85,-2.1],[3.05,-2.1],[2.4,-3],[2.3,-3.5],[2.15,-3.9],[2.5,-3.7],[2.4,-4.1],[1.95,-4.6],[1.7,-4.7],[1.6,-4.3],[1.45,-4.8],[1.2,-5.2],[1.4,-5],[.95,-5.5],[1.05,-5.9],[.7,-6.2],[.75,-6.7],[.55,-6.8],[-.5,-7.1],[.55,-7.4],[.4,-8.8],[-.45,-8.8],[-.6,-8.3],
[-.9,8.2],[-.55,8.4],[-.3,8.2],[.1,8.1],[.2,7.7],[.4,8.5],[.75,7.9],[.9,7.6],[1.05,7.8],[.55,7.1],[.95,7],[1.15,6.9],[.25,9.2],[.1,8.7],[.5,9],[.3,8.3],[.7,9.7],[.55,10],[.85,10.2]
];
// solid middle of the right panel, each row is [y, list of x]
var rightCore = [
[7.3,[-.75,-.3,.1,.4]],[6.8,[-1.05,-.45,-.1,.25,.6]],[6.4,[-.9,-.6,-.25,.05,.35,.7,1]],[6,[-.7,-.35,0,.3,.65,.95,1.25]],
[5.6,[-1.2,-.9,-.5,-.2,.1,.4,.75,1.05,1.35]],[5.2,[-1.35,-1,-.7,-.35,-.05,.25,.6,.9,1.2,1.45]],[4.8,[-1.45,-1.05,-.75,-.4,-.1,.2,.5,.8,1.1,1.35]],[4.4,[-1.5,-1.2,-.85,-.55,-.25,.05,.35,.65,.95,1.25,1.55]],
[4,[-1.65,-1.3,-1,-.7,-.4,-.1,.2,.5,.8,1.1,1.4,1.7]],[3.6,[-1.75,-1.45,-1.1,-.8,-.5,-.2,.1,.4,.7,1,1.3,1.6,1.85]],[3.2,[-1.7,-1.35,-1.05,-.75,-.45,-.15,.15,.45,.75,1.05,1.35,1.65,2]],[2.8,[-1.8,-1.5,-1.2,-.9,-.55,-.25,.05,.35,.65,.95,1.25,1.55,1.85]],
[2.4,[-1.85,-1.55,-1.25,-.95,-.65,-.3,0,.3,.6,.9,1.2,1.5,1.8,2]],[2,[-1.9,-1.6,-1.3,-1,-.7,-.4,-.1,.2,.5,.8,1.1,1.4,1.7]],[1.6,[-1.8,-1.5,-1.2,-.9,-.6,-.3,0,.3,.6,.9,1.2,1.5,1.8,2.05]],[1.2,[-1.9,-1.6,-1.3,-1,-.7,-.4,-.1,.2,.5,.8,1.1,1.4,1.7,2.2]],
[.8,[-1.95,-1.65,-1.35,-1.05,-.75,-.45,-.15,.15,.45,.75,1.05,1.35,1.65,1.95,2.3]],[.4,[-1.9,-1.6,-1.3,-1,-.7,-.4,-.1,.2,.5,.8,1.1,1.4,1.7,2,2.4]],[0,[-2,-1.7,-1.4,-1.1,-.8,-.5,-.2,.1,.4,.7,1,1.3,1.6,1.9,2.2,2.55]],[-.4,[-1.9,-1.6,-1.3,-1,-.7,-.4,-.1,.2,.5,.8,1.1,1.4,1.7,2,2.3,2.6]],
[-.8,[-1.85,-1.55,-1.25,-.95,-.65,-.35,-.05,.25,.55,.85,1.15,1.45,1.75,2.05,2.35,2.65]],[-1.2,[-1.9,-1.6,-1.3,-1,-.7,-.4,-.1,.2,.5,.8,1.1,1.4,1.7,2,2.3]],[-1.6,[-1.8,-1.5,-1.2,-.9,-.6,-.3,0,.3,.6,.9,1.2,1.5,1.8,2.1,2.45]],[-2,[-1.75,-1.45,-1.15,-.85,-.55,-.25,.05,.35,.65,.95,1.25,1.55,1.85,2.15]],
[-2.4,[-1.8,-1.5,-1.2,-.9,-.6,-.3,0,.3,.6,.9,1.2,1.5,1.8,2.2]],[-2.8,[-1.6,-1.3,-1,-.7,-.4,-.1,.2,.5,.8,1.1,1.4,1.7,2.05,2.35]],[-3.2,[-1.5,-1.2,-.9,-.6,-.3,0,.3,.6,.9,1.2,1.5,1.85]],[-3.6,[-1.45,-1.1,-.8,-.5,-.2,.1,.4,.7,1,1.3]],
[-4,[-1,-.7,-.4,-.1,.2,.5,.8,1.1,1.4,1.9]],[-4.4,[-1,-.65,-.35,-.05,.25,.55,.85,1.15]],[-4.8,[-.6,-.3,0,.3,.6,.9,1.2]],[-5.2,[-.5,-.2,.1,.4,.7,1]],
[-5.6,[-.4,-.1,.2,.5,.8]],[-6,[-.35,-.05,.25,.55,.85]],[-6.4,[-.3,0,.3,.6]],[-6.8,[-.2,.1,.4]],[-7.2,[-.25,.05,.35]],[-7.6,[-.4,-.1,.2,.5]],[-8,[-.5,-.2,.1,.4]],[-8.4,[-.5,-.2,.1,.35]]
];
var rightCoreBetween = [
[5.4,[-1.1,-.75,-.4,-.1,.2,.5,.85,1.15]],[5,[-1.25,-.9,-.55,-.25,.05,.35,.65,.95,1.25]],[4.6,[-1.35,-1,-.7,-.4,-.1,.2,.5,.8,1.1,1.4]],[4.2,[-1.45,-1.15,-.85,-.55,-.25,.05,.35,.65,.95,1.25,1.55]],
[3.8,[-1.5,-1.15,-.85,-.55,-.25,.05,.35,.65,.95,1.25,1.5]],[3.4,[-1.55,-1.25,-.95,-.65,-.35,-.05,.25,.55,.85,1.15,1.45,1.75]],[3,[-1.65,-1.35,-1.05,-.75,-.4,-.1,.2,.5,.8,1.1,1.4,1.7,2]],[2.6,[-1.65,-1.35,-1.05,-.75,-.4,-.1,.2,.5,.8,1.1,1.4,1.7]],
[2.2,[-1.7,-1.4,-1.1,-.8,-.5,-.2,.1,.4,.7,1,1.3,1.6,1.9]],[1.8,[-1.75,-1.45,-1.15,-.85,-.55,-.25,.05,.35,.65,.95,1.25,1.55,1.9]],[1.4,[-1.75,-1.45,-1.15,-.85,-.55,-.25,.05,.35,.65,.95,1.25,1.55,1.85]],[1,[-1.8,-1.5,-1.2,-.85,-.55,-.25,.05,.35,.65,.95,1.25,1.55,1.85,2.1]],
[.6,[-1.8,-1.5,-1.15,-.85,-.55,-.25,.05,.35,.65,.95,1.25,1.55,1.85,2.15]],[.2,[-1.85,-1.55,-1.25,-.95,-.65,-.35,-.05,.25,.55,.85,1.15,1.45,1.75,2.05,2.35]],[-.2,[-1.75,-1.45,-1.15,-.85,-.55,-.25,.05,.35,.65,.95,1.25,1.55,1.85,2.15,2.45]],[-.6,[-1.75,-1.45,-1.15,-.85,-.55,-.25,.05,.35,.65,.95,1.25,1.55,1.85,2.2,2.5]],
[-1,[-1.75,-1.45,-1.15,-.85,-.55,-.25,.05,.35,.65,.95,1.25,1.55,1.85,2.15,2.45]],[-1.4,[-1.75,-1.45,-1.15,-.85,-.55,-.25,.05,.35,.65,.95,1.25,1.55,1.85,2.15]],[-1.8,[-1.65,-1.35,-1.05,-.75,-.45,-.15,.15,.45,.75,1.05,1.35,1.65,1.95,2.25]],[-2.2,[-1.6,-1.3,-1,-.7,-.4,-.1,.2,.5,.8,1.1,1.4,1.7,2]],
[-2.6,[-1.45,-1.15,-.85,-.55,-.25,.05,.35,.65,.95,1.25,1.55,1.9]],[-3,[-1.35,-1.05,-.75,-.45,-.15,.15,.45,.75,1.05,1.35,1.65,2.05]],[-3.4,[-1.3,-1.05,-.75,-.35,-.05,.25,.55,.85,1.15,1.5]],[-3.8,[-.9,-.6,-.3,0,.3,.6,.9,1.2]],
[-4.2,[-.85,-.5,-.2,.1,.4,.7,1,1.3]],[-4.6,[-.8,-.45,-.15,.15,.45,.75,1.05]],[-5,[-.45,-.15,.15,.45,.75,1.05]],[-5.4,[-.35,-.05,.25,.55,.85]],[-5.8,[-.2,.1,.4,.7]],[-6.2,[-.15,.15,.45]],[-6.6,[-.3,.05,.35]],[-7,[-.05,.25]],[-7.4,[-.15,.2]],[-7.8,[-.3,.05,.35]],[-8.2,[-.35,-.05,.25]]
];

var leftPoints = leftColumns.concat(leftTop, leftUpper, leftMid3, leftMid2, leftMid1, leftLow, leftDenseHigh, leftDenseLow);
var rightPoints = rightTop.concat(rightLow, rightEdge);
rightCore.concat(rightCoreBetween).forEach(function (row) {
    row[1].forEach(function (x) { rightPoints.push([x, row[0]]); });
});

// fit lines, end points
var leftFit = [[0, 24.9], [15, 32.2]];
var rightFit = [[-9.2, .55], [5.9, -.5]];

var leftXTicks = [0, 5, 10, 15];
var leftYTicks = [0, 20, 40, 60, 80];
var rightXTicks = [-10, -5, 0, 5, 10];
var rightYTicks = [-20, -10, 0, 10, 20];

var navy = "#1a476f", maroon = "#90353b", pale = "#eaf2f3", dot = 3.85;
var svg = d3.select("#chart");

// the pale frames round the graphs
svg.append("path").attr("d", "M1055,8H8V772").attr("fill", "none").attr("stroke", pale).attr("stroke-width", 1.5);
svg.append("rect").attr("x", 25).attr("y", 25).attr("width", 511).attr("height", 733)
    .attr("fill", "#fff").attr("stroke", "#f0f5f6").attr("stroke-width", 1.2);

function drawPanel(o) {
    var x = d3.scaleLinear().domain(o.xDomain).range([o.left, o.right]);
    var y = d3.scaleLinear().domain(o.yDomain).range([680.3, 45.3]);
    var g = svg.append("g");

    g.selectAll("line.grid").data(o.yTicks).enter().append("line")
        .attr("class", "grid")
        .attr("x1", o.left).attr("x2", o.right)
        .attr("y1", function (d) { return y(d); }).attr("y2", function (d) { return y(d); })
        .attr("stroke", pale).attr("stroke-width", 1.6);

    if (o.border) {
        g.append("path").attr("d", "M" + o.left + ",45.3H" + o.right + "V680.3")
            .attr("fill", "none").attr("stroke", pale).attr("stroke-width", 1.3);
    }

    g.selectAll("circle").data(o.points).enter().append("circle")
        .attr("cx", function (d) { return x(d[0]); })
        .attr("cy", function (d) { return y(d[1]); })
        .attr("r", dot)
        .attr("fill", navy);

    g.append("path").datum(o.fit)
        .attr("d", d3.line().x(function (d) { return x(d[0]); }).y(function (d) { return y(d[1]); }))
        .attr("fill", "none").attr("stroke", maroon).attr("stroke-width", 1.6);

    var xAxis = g.append("g").attr("transform", "translate(0,680.3)")
        .call(d3.axisBottom(x).tickValues(o.xTicks).tickSizeInner(7.3).tickSizeOuter(0).tickPadding(5).tickFormat(String));
    var yAxis = g.append("g").attr("transform", "translate(" + o.left + ",0)")
        .call(d3.axisLeft(y).tickValues(o.yTicks).tickSizeInner(8).tickSizeOuter(0).tickFormat(String));

    [xAxis, yAxis].forEach(function (a) {
        a.selectAll("path,line").attr("stroke", "#222").attr("stroke-width", 1.2);
        a.selectAll("text").attr("font-size", 18.5).style("font-family", '"Liberation Sans"').attr("fill", "#111");
    });
    yAxis.select("path.domain").attr("stroke", o.yAxisColor).attr("stroke-width", o.yAxisWidth);

    yAxis.selectAll("text")
        .attr("x", 0).attr("y", 0).attr("dy", ".36em").attr("text-anchor", "middle")
        .attr("transform", "translate(" + (o.yTickX - o.left) + ",0) rotate(-90)");

    g.append("text").attr("x", o.xTitleX).attr("y", 729.5).attr("text-anchor", "middle")
        .attr("font-size", 19.6).text(o.xTitle);
    g.append("text").attr("text-anchor", "middle").attr("font-size", 19.6)
        .attr("transform", "translate(" + o.yTitleX + "," + o.yTitleY + ") rotate(-90)")
        .text(o.yTitle);
}

drawPanel({
    left: 104, right: 516.7, border: true, yAxisColor: "#555", yAxisWidth: 2,
    xDomain: [-.514, 15.8], yDomain: [-1.61, 81.67],
    xTicks: leftXTicks, yTicks: leftYTicks, yTickX: 80,
    points: leftPoints, fit: leftFit,
    xTitle: "Refugee population in hosting countries (nat. log.)", xTitleX: 313,
    yTitle: "Prevalence of child stunting (%)", yTitleX: 55, yTitleY: 364
});

drawPanel({
    left: 615, right: 1025, border: false, yAxisColor: "#222", yAxisWidth: 1.3,
    xDomain: [-10.64, 10.64], yDomain: [-20.87, 20.81],
    xTicks: rightXTicks, yTicks: rightYTicks, yTickX: 590.7,
    points: rightPoints, fit: rightFit,
    xTitle: "Residuals of refugee population in hosting countries", xTitleX: 824,
    yTitle: "Residuals of prevalence of child stunting", yTitleX: 575, yTitleY: 365
});
</script>
</body>
</html>
